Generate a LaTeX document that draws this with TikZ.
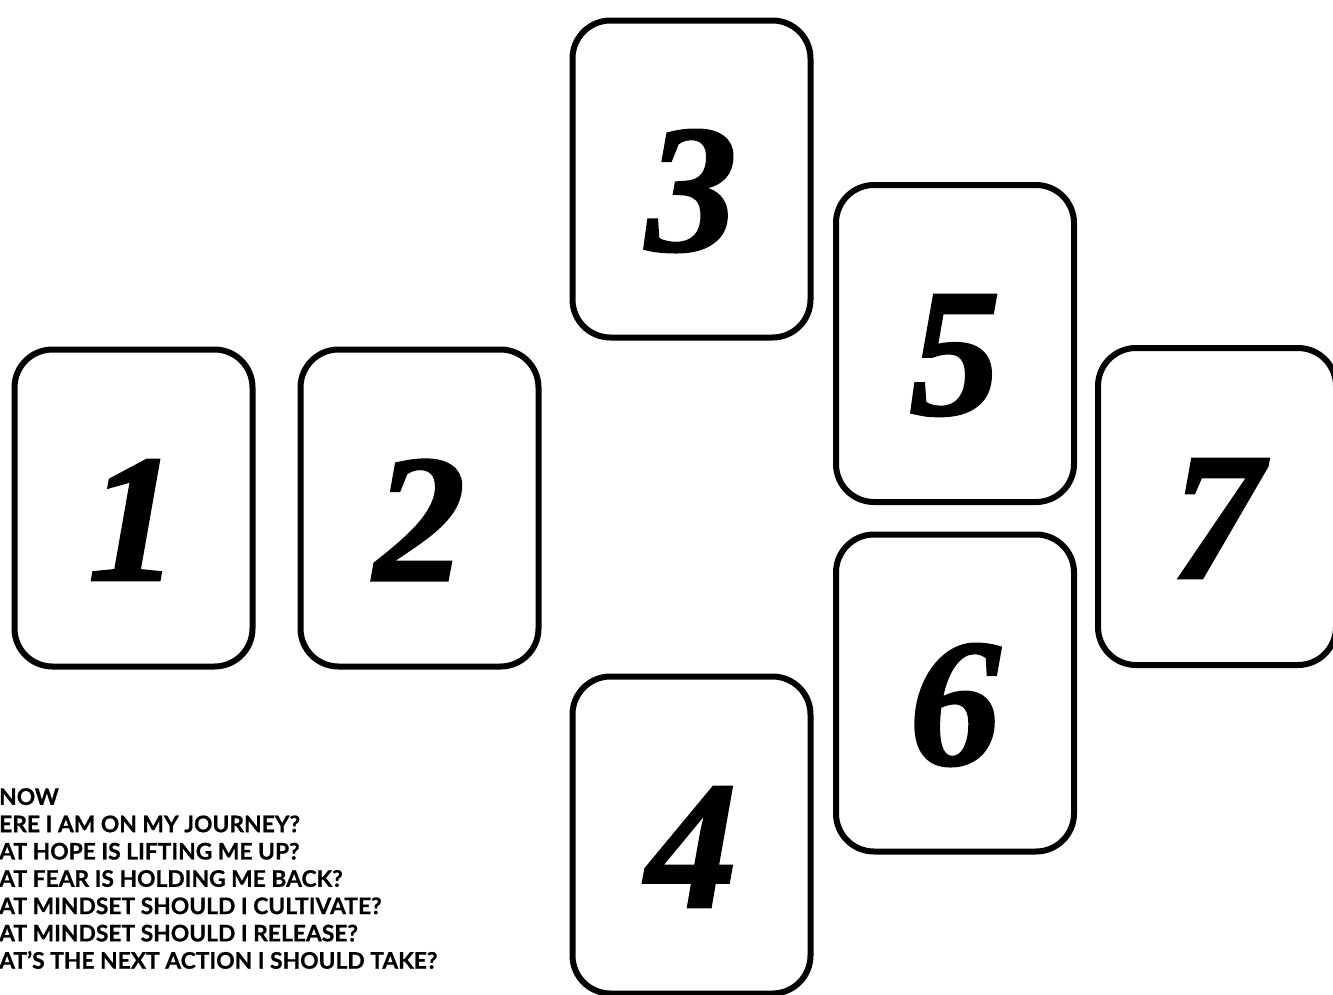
\documentclass[tikz,border=0pt]{standalone}
\usepackage{fontspec}
\newfontfamily\questfont[BoldFeatures={FakeBold=0.8}]{Lato}
\newfontfamily\numfont[BoldItalicFeatures={FakeBold=1.5}]{Liberation Serif}
\pgfmathsetmacro{\cardw}{238}
\pgfmathsetmacro{\cardh}{317}
\pgfmathsetmacro{\numdrop}{12}
\newlength{\qsize}
\setlength{\qsize}{22.8pt}
\newlength{\qskip}
\setlength{\qskip}{27.3pt}

\begin{document}
\begin{tikzpicture}[x=1pt, y=-1pt,
  card/.style={draw, line width=6pt, rounded corners=38pt,
    minimum width=\cardw pt, minimum height=\cardh pt, inner sep=0pt},
  numeral/.style={inner sep=0pt,
    font=\numfont\bfseries\itshape\fontsize{182pt}{182pt}\selectfont},
  question/.style={inner sep=0pt, align=left, anchor=north west,
    font=\questfont\bfseries\fontsize{\qsize}{\qskip}\selectfont}]

\useasboundingbox (0,0) rectangle (1333,994);

\node[card] (c1) at (133.5,508) {};
\node[card] (c2) at (419.5,508) {};
\node[card] (c3) at (691.5,179) {};
\node[card] (c4) at (691.5,835) {};
\node[card] (c5) at (955,343.5) {};
\node[card] (c6) at (955,693) {};
\node[card] (c7) at (1217,506.5) {};

\foreach \n in {1,...,7}
  \node[numeral] (n\n) at ([yshift=-\numdrop pt]c\n.center) {\n};

\node[question] (questions) at (-1,788) {
    NOW\\
    ERE I AM ON MY JOURNEY?\\
    AT HOPE IS LIFTING ME UP?\\
    AT FEAR IS HOLDING ME BACK?\\
    AT MINDSET SHOULD I CULTIVATE?\\
    AT MINDSET SHOULD I RELEASE?\\
    AT’S THE NEXT ACTION I SHOULD TAKE?};
\end{tikzpicture}
\end{document}
